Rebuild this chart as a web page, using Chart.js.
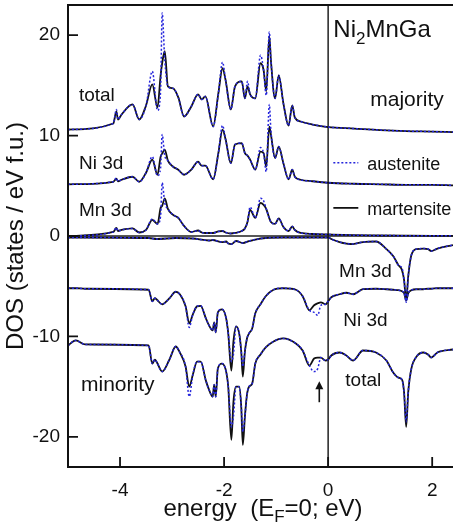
<!DOCTYPE html>
<html>
<head>
<meta charset="utf-8">
<script src="https://cdn.jsdelivr.net/npm/chart.js@4.4.0/dist/chart.umd.min.js"></script>
<style>
  html, body { margin: 0; padding: 0; background: #fff; overflow: hidden; }
  #dos { display: block; }
</style>
</head>
<body>
<canvas id="dos" width="453" height="527"></canvas>
<script>
// ---- data (energy in eV, DOS offset per curve) ----
const xTickValues = [-4, -2, 0, 2];
const yTickValues = [-20, -10, 0, 10, 20];

// majority spin: shared energy grid
const xMaj = [-5.0, -4.13, -4.07, -4.04, -3.97, -3.76, -3.63, -3.5, -3.38, -3.28,
  -3.22, -3.19, -3.14, -3.08, -2.98, -2.88, -2.77, -2.63, -2.5, -2.43,
  -2.36, -2.21, -2.11, -2.03, -1.97, -1.87, -1.79, -1.66, -1.6, -1.55,
  -1.5, -1.4, -1.3, -1.24, -1.19, -1.13, -1.1, -1.02, -0.95, -0.86,
  -0.76, -0.69, -0.64, -0.53, -0.3, 0.0, 0.5, 1.0, 1.5, 2.0,
  2.4];
const totalMajMart = [10.6, 11.2, 12.4, 11.6, 12.1, 13.1, 11.6, 13.0, 15.1, 12.8,
  16.0, 17.2, 18.4, 14.9, 14.7, 13.8, 11.9, 12.9, 14.1, 13.6,
  13.9, 10.9, 14.2, 16.7, 15.5, 12.6, 14.9, 15.4, 13.7, 14.9,
  14.1, 13.7, 17.2, 16.5, 14.4, 19.9, 17.5, 13.7, 16.0, 13.2,
  11.0, 13.0, 11.8, 11.4, 11.1, 10.85, 10.7, 10.55, 10.45, 10.4,
  10.35];
const totalMajAus = [10.6, 11.2, 12.6, 11.6, 12.1, 13.1, 11.6, 13.0, 16.4, 12.5,
  14.5, 22.2, 17.5, 14.9, 14.7, 13.8, 11.9, 12.9, 14.1, 13.6,
  13.9, 10.9, 14.2, 17.3, 15.5, 12.6, 14.9, 15.4, 13.7, 15.4,
  14.1, 13.7, 18.0, 16.5, 14.0, 20.3, 17.5, 13.7, 16.0, 13.2,
  11.0, 13.0, 11.8, 11.4, 11.1, 10.85, 10.7, 10.55, 10.45, 10.4,
  10.35];
const niMajMart = [5.15, 5.4, 5.7, 5.45, 5.6, 5.9, 5.4, 6.3, 7.6, 6.1,
  7.9, 8.2, 8.6, 7.5, 6.9, 6.6, 6.1, 6.6, 7.4, 7.0,
  7.0, 5.65, 8.25, 10.6, 9.6, 7.25, 9.1, 9.25, 8.25, 8.0,
  7.6, 6.6, 8.4, 8.25, 6.9, 10.9, 10.1, 7.75, 8.9, 7.25,
  5.65, 6.6, 5.9, 5.6, 5.45, 5.3, 5.2, 5.15, 5.1, 5.1,
  5.05];
const niMajAus = [5.15, 5.4, 5.8, 5.45, 5.6, 5.9, 5.4, 6.3, 7.9, 6.0,
  6.8, 10.1, 8.0, 7.5, 6.9, 6.6, 6.1, 6.6, 7.4, 7.0,
  7.0, 5.65, 8.25, 11.0, 9.6, 7.25, 9.1, 9.25, 8.25, 8.0,
  7.6, 6.6, 8.8, 8.25, 6.4, 13.1, 10.5, 7.75, 8.9, 7.25,
  5.65, 6.6, 5.9, 5.6, 5.45, 5.3, 5.2, 5.15, 5.1, 5.1,
  5.05];
const mnMajMart = [0.0, 0.4, 0.8, 0.5, 0.6, 0.75, 0.35, 0.6, 1.6, 1.2,
  2.8, 3.0, 3.75, 2.7, 2.1, 1.8, 1.0, 0.4, 0.55, 0.35,
  0.3, 0.3, 0.45, 0.5, 0.35, 0.25, 0.3, 0.5, 0.75, 1.4,
  2.6, 1.8, 3.3, 3.1, 2.7, 1.75, 1.4, 1.2, 1.75, 0.9,
  0.5, 0.95, 0.6, 0.3, 0.2, 0.15, 0.08, 0.05, 0.03, 0.02,
  0.02];
const mnMajAus = [0.0, 0.4, 0.85, 0.5, 0.6, 0.75, 0.35, 0.6, 1.7, 1.2,
  2.0, 5.3, 3.3, 2.7, 2.1, 1.8, 1.0, 0.4, 0.55, 0.35,
  0.3, 0.3, 0.45, 0.5, 0.35, 0.25, 0.3, 0.5, 0.75, 1.4,
  2.9, 1.8, 3.75, 3.5, 2.7, 1.75, 1.4, 1.2, 1.75, 0.9,
  0.5, 0.95, 0.6, 0.3, 0.2, 0.15, 0.08, 0.05, 0.03, 0.02,
  0.02];

// minority spin: Ni 3d and total share a grid
const xMin = [-5.0, -4.85, -4.67, -3.45, -3.38, -3.33, -3.29, -3.19, -3.05, -2.93,
  -2.85, -2.74, -2.67, -2.6, -2.52, -2.45, -2.35, -2.29, -2.22, -2.19,
  -2.16, -2.12, -2.04, -1.96, -1.92, -1.86, -1.82, -1.77, -1.71, -1.67,
  -1.64, -1.6, -1.56, -1.52, -1.46, -1.40, -1.3, -1.2, -1.05, -0.87,
  -0.62, -0.49, -0.36, -0.27, -0.2, -0.14, -0.05, 0.0, 0.06, 0.22,
  0.35, 0.48, 0.67, 0.92, 1.12, 1.25, 1.35, 1.42, 1.46, 1.5,
  1.54, 1.6, 1.7, 1.83, 1.92, 1.98, 2.1, 2.4];
const niMinMart = [-5.2, -5.2, -5.25, -5.35, -6.5, -6.2, -6.35, -6.8, -6.2, -5.55,
  -5.8, -7.0, -8.7, -7.8, -7.0, -6.95, -8.2, -8.9, -9.4, -8.6,
  -9.6, -7.6, -7.3, -8.2, -9.7, -13.4, -10.5, -9.0, -9.7, -11.5,
  -14.0, -11.5, -10.2, -9.7, -9.2, -7.7, -6.8, -6.0, -5.35, -5.2,
  -5.35, -6.0, -7.4, -6.9, -6.7, -6.6, -6.8, -6.5, -6.1, -5.8,
  -5.65, -5.8, -5.3, -5.25, -5.3, -5.35, -5.4, -5.5, -5.7, -6.4,
  -5.7, -5.4, -5.3, -5.3, -5.25, -5.25, -5.2, -5.2];
const niMinAus = [-5.2, -5.2, -5.25, -5.35, -6.5, -6.2, -6.35, -6.8, -6.2, -5.55,
  -5.8, -7.0, -9.1, -7.8, -7.0, -6.95, -8.2, -8.9, -9.4, -8.6,
  -9.6, -7.6, -7.3, -8.2, -9.7, -12.5, -11.8, -9.0, -9.7, -11.5,
  -13.0, -11.5, -10.2, -9.7, -9.2, -7.7, -6.8, -6.0, -5.35, -5.2,
  -5.35, -6.0, -7.4, -7.6, -7.9, -6.9, -6.8, -6.5, -6.1, -5.8,
  -5.65, -5.8, -5.3, -5.25, -5.3, -5.35, -5.4, -5.5, -5.7, -6.5,
  -5.7, -5.4, -5.3, -5.3, -5.25, -5.25, -5.2, -5.2];
const totMinMart = [-10.9, -10.4, -10.8, -10.9, -12.7, -12.3, -12.6, -13.5, -12.3, -11.0,
  -11.6, -13.0, -15.0, -13.8, -12.5, -12.5, -14.4, -15.3, -16.0, -14.8,
  -16.0, -13.2, -12.7, -13.5, -15.0, -20.3, -16.5, -15.0, -15.0, -17.0,
  -20.8, -18.0, -15.8, -15.0, -14.7, -12.7, -11.8, -11.1, -10.5, -10.2,
  -10.7, -11.4, -12.9, -12.2, -12.1, -12.1, -12.4, -12.3, -11.9, -11.6,
  -11.9, -12.4, -11.4, -11.6, -12.4, -13.6, -14.1, -14.3, -15.6, -19.0,
  -15.5, -13.2, -12.0, -11.6, -11.8, -12.1, -11.6, -11.3];
const totMinAus = [-10.9, -10.4, -10.8, -10.9, -12.7, -12.3, -12.6, -13.5, -12.3, -11.0,
  -11.6, -13.0, -16.0, -13.8, -12.5, -12.5, -14.4, -15.3, -16.0, -14.8,
  -16.0, -13.2, -12.7, -13.5, -15.0, -19.0, -18.0, -15.0, -15.0, -17.0,
  -19.5, -18.0, -15.8, -15.0, -14.7, -12.7, -11.8, -11.1, -10.5, -10.2,
  -10.7, -11.4, -12.9, -13.5, -13.2, -12.1, -12.4, -12.3, -11.9, -11.6,
  -11.9, -12.4, -11.4, -11.6, -12.4, -13.6, -14.1, -14.3, -15.6, -18.5,
  -15.5, -13.2, -12.0, -11.6, -11.8, -12.1, -11.6, -11.3];

// minority Mn 3d has its own grid
const xMnMin = [-5.0, -3.45, -3.29, -2.93, -2.6, -2.29, -2.22, -2.04, -1.96, -1.92,
  -1.86, -1.77, -1.64, -1.52, -1.4, -1.2, -0.87, -0.49, 0.0, 0.06,
  0.22, 0.35, 0.48, 0.67, 0.92, 1.12, 1.25, 1.35, 1.42, 1.46,
  1.5, 1.54, 1.6, 1.7, 1.83, 1.92, 1.98, 2.1, 2.4];
const mnMinMart = [-0.15, -0.2, -0.3, -0.2, -0.25, -0.45, -0.4, -0.6, -0.55, -0.75,
  -0.8, -0.5, -0.7, -0.5, -0.35, -0.2, -0.15, -0.15, -0.15, -0.3,
  -0.6, -0.75, -0.8, -0.6, -0.55, -1.3, -2.0, -2.9, -3.4, -4.4,
  -6.4, -4.0, -1.9, -1.3, -1.25, -1.3, -1.5, -1.25, -0.9];
const mnMinAus = [-0.15, -0.2, -0.3, -0.2, -0.25, -0.45, -0.4, -0.6, -0.55, -0.75,
  -0.8, -0.5, -0.7, -0.5, -0.35, -0.2, -0.15, -0.15, -0.15, -0.3,
  -0.6, -0.75, -0.8, -0.6, -0.55, -1.3, -2.0, -2.9, -3.2, -4.4,
  -6.6, -4.0, -1.9, -1.3, -1.25, -1.3, -1.5, -1.25, -0.9];

// ---- styling ----
const FONT = '"Liberation Sans", Arial, Helvetica, sans-serif';
const BLUE = '#2424dc';
const INK = '#111';
Chart.defaults.font.family = FONT;
Chart.defaults.color = INK;

function pts(xs, ys) {
  return xs.map((x, i) => ({ x: x, y: ys[i] }));
}

function martensite(xs, ys) {
  return { data: pts(xs, ys), borderColor: INK, borderWidth: 1.8, order: 2 };
}
function austenite(xs, ys) {
  return { data: pts(xs, ys), borderColor: BLUE, borderWidth: 1.5, borderDash: [2, 2], order: 1 };
}

const datasets = [
  martensite(xMaj, totalMajMart), austenite(xMaj, totalMajAus),
  martensite(xMaj, niMajMart), austenite(xMaj, niMajAus),
  martensite(xMaj, mnMajMart), austenite(xMaj, mnMajAus),
  martensite(xMnMin, mnMinMart), austenite(xMnMin, mnMinAus),
  martensite(xMin, niMinMart), austenite(xMin, niMinAus),
  martensite(xMin, totMinMart), austenite(xMin, totMinAus)
];

// frame, inward ticks, reference lines and all in-plot text
const dosDecor = {
  id: 'dosDecor',
  beforeDatasetsDraw(chart) {
    const { ctx, chartArea: a, scales: { x, y } } = chart;
    ctx.save();
    ctx.strokeStyle = '#222';
    ctx.lineWidth = 1.5;
    const y0 = y.getPixelForValue(0);
    const x0 = x.getPixelForValue(0);
    ctx.beginPath();
    ctx.moveTo(a.left, y0); ctx.lineTo(a.right, y0);
    ctx.moveTo(x0, a.top); ctx.lineTo(x0, a.bottom);
    ctx.stroke();
    ctx.restore();
  },
  afterDatasetsDraw(chart) {
    const { ctx, chartArea: a, scales: { x, y } } = chart;
    const px = v => x.getPixelForValue(v);
    const py = v => y.getPixelForValue(v);
    ctx.save();

    // box: top, left, bottom (right side is off the page)
    ctx.strokeStyle = INK;
    ctx.lineWidth = 2;
    ctx.beginPath();
    ctx.moveTo(a.right, a.top); ctx.lineTo(a.left, a.top);
    ctx.lineTo(a.left, a.bottom); ctx.lineTo(a.right, a.bottom);
    ctx.stroke();

    // inward ticks
    ctx.lineWidth = 1.8;
    ctx.beginPath();
    yTickValues.forEach(v => { ctx.moveTo(a.left, py(v)); ctx.lineTo(a.left + 10, py(v)); });
    xTickValues.forEach(v => { ctx.moveTo(px(v), a.bottom); ctx.lineTo(px(v), a.bottom - 10); });
    ctx.stroke();

    // curve labels
    ctx.fillStyle = INK;
    ctx.textBaseline = 'alphabetic';
    const label = (s, xv, yv, size) => {
      ctx.font = size + 'px ' + FONT;
      ctx.fillText(s, px(xv), py(yv));
    };
    label('total', -4.79, 13.4, 19);
    label('Ni 3d', -4.79, 6.7, 19);
    label('Mn 3d', -4.79, 2.0, 19);
    label('majority', 0.81, 12.9, 21);
    label('Mn 3d', 0.21, -4.1, 19);
    label('Ni 3d', 0.29, -9.0, 19);
    label('total', 0.33, -14.9, 19);
    label('minority', -4.75, -15.4, 21);

    // Ni2MnGa
    let tx = px(0.10);
    const ty = py(19.8);
    ctx.font = '24px ' + FONT;
    ctx.fillText('Ni', tx, ty);
    tx += ctx.measureText('Ni').width;
    ctx.font = '17px ' + FONT;
    ctx.fillText('2', tx, ty + 7);
    tx += ctx.measureText('2').width;
    ctx.font = '24px ' + FONT;
    ctx.fillText('MnGa', tx, ty);

    // legend
    ctx.lineWidth = 1.5;
    ctx.strokeStyle = BLUE;
    ctx.setLineDash([2, 2]);
    ctx.beginPath();
    ctx.moveTo(px(0.10), py(7.3)); ctx.lineTo(px(0.58), py(7.3));
    ctx.stroke();
    ctx.setLineDash([]);
    ctx.lineWidth = 1.8;
    ctx.strokeStyle = INK;
    ctx.beginPath();
    ctx.moveTo(px(0.10), py(2.8)); ctx.lineTo(px(0.58), py(2.8));
    ctx.stroke();
    label('austenite', 0.75, 6.6, 18);
    label('martensite', 0.75, 2.1, 18);

    // arrow marking the dip below E_F
    const ax = px(-0.17);
    const tip = py(-14.46);
    ctx.lineWidth = 1.6;
    ctx.beginPath();
    ctx.moveTo(ax, py(-16.55)); ctx.lineTo(ax, tip + 6);
    ctx.stroke();
    ctx.beginPath();
    ctx.moveTo(ax, tip); ctx.lineTo(ax - 4, tip + 8); ctx.lineTo(ax + 4, tip + 8);
    ctx.closePath();
    ctx.fill();

    ctx.restore();
  },
  afterDraw(chart) {
    // x-axis title with subscript F
    const { ctx, chartArea: a } = chart;
    ctx.save();
    ctx.fillStyle = INK;
    ctx.textBaseline = 'alphabetic';
    const parts = [['energy  (E', 24, 0], ['F', 17, 6], ['=0; eV)', 24, 0]];
    let w = 0;
    parts.forEach(p => { ctx.font = p[1] + 'px ' + FONT; w += ctx.measureText(p[0]).width; });
    let tx = 263 - w / 2;
    const base = a.bottom + 49;
    parts.forEach(p => {
      ctx.font = p[1] + 'px ' + FONT;
      ctx.fillText(p[0], tx, base + p[2]);
      tx += ctx.measureText(p[0]).width;
    });
    ctx.restore();
  }
};

// keep the plot box fixed: no extra room for edge tick labels
function noEdgePadding(s) {
  s.paddingTop = 0;
  s.paddingBottom = 0;
  s.paddingLeft = 0;
  s.paddingRight = 0;
}

new Chart(document.getElementById('dos'), {
  type: 'line',
  data: { datasets: datasets },
  options: {
    responsive: false,
    animation: false,
    devicePixelRatio: 1,
    parsing: false,
    layout: { padding: { top: 5, right: 0, left: 0, bottom: 0 } },
    elements: {
      point: { radius: 0 },
      line: { cubicInterpolationMode: 'monotone', fill: false }
    },
    plugins: { legend: { display: false }, tooltip: { enabled: false } },
    scales: {
      x: {
        type: 'linear',
        min: -5,
        max: 2.4,
        grid: { display: false, drawTicks: false },
        border: { display: false },
        ticks: { font: { size: 19 }, color: INK, padding: 12, maxRotation: 0 },
        afterBuildTicks: s => { s.ticks = xTickValues.map(v => ({ value: v })); },
        afterFit: s => { s.height = 60; noEdgePadding(s); }
      },
      y: {
        type: 'linear',
        min: -23,
        max: 23,
        grid: { display: false, drawTicks: false },
        border: { display: false },
        ticks: { font: { size: 19 }, color: INK, padding: 8 },
        afterBuildTicks: s => { s.ticks = yTickValues.map(v => ({ value: v })); },
        afterFit: s => { s.width = 68; noEdgePadding(s); },
        title: {
          display: true,
          text: 'DOS (states / eV f.u.)',
          font: { size: 24 },
          color: INK,
          padding: { top: 2, bottom: 0 }
        }
      }
    }
  },
  plugins: [dosDecor]
});
</script>
</body>
</html>
